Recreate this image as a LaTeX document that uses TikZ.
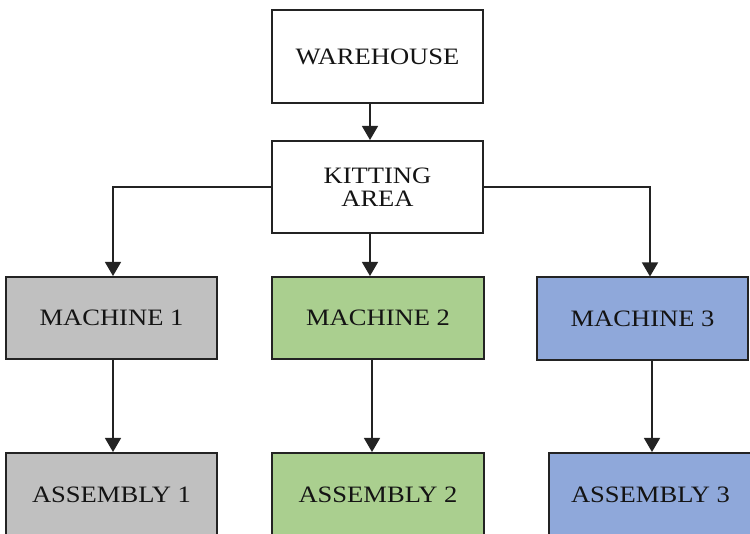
\documentclass[tikz,border=0pt]{standalone}
\usepackage{fontspec}
\setmainfont[FakeStretch=1.13]{Liberation Serif}
\usetikzlibrary{arrows.meta}
\definecolor{gbox}{RGB}{192,192,192}
\definecolor{grbox}{RGB}{170,207,143}
\definecolor{blbox}{RGB}{143,168,218}
\definecolor{edge}{RGB}{35,35,35}
\definecolor{txt}{RGB}{20,20,20}
\tikzset{
  box/.style={draw=edge, line width=2pt, inner sep=0pt, align=center,
    text=txt, font=\fontsize{23.5}{23.5}\selectfont},
  arr/.style={draw=edge, line width=1.3pt, -{Triangle[width=16pt,length=14pt]}},
}
\begin{document}
\begin{tikzpicture}[x=1pt,y=1pt]
\useasboundingbox (0,0) rectangle (750,-534);
\clip (0,0) rectangle (750,-534);
\node[box, minimum width=211pt, minimum height=93pt] (wh) at (377.5,-56.5) {WAREHOUSE};
\node[box, minimum width=211pt, minimum height=92pt] (ka) at (377.5,-187) {KITTING\\AREA};
\node[box, fill=gbox, minimum width=211pt, minimum height=82pt] (m1) at (111.5,-318) {MACHINE 1};
\node[box, fill=grbox, minimum width=212pt, minimum height=82pt] (m2) at (378,-318) {MACHINE 2};
\node[box, fill=blbox, minimum width=211pt, minimum height=83pt] (m3) at (642.5,-319) {MACHINE 3};
\node[box, fill=gbox, minimum width=211pt, minimum height=84pt] (a1) at (111.5,-495) {ASSEMBLY 1};
\node[box, fill=grbox, minimum width=212pt, minimum height=84pt] (a2) at (378,-495) {ASSEMBLY 2};
\node[box, fill=blbox, minimum width=203pt, minimum height=84pt] (a3) at (650.5,-495) {ASSEMBLY 3};
\draw[arr] ([xshift=-7.5pt]wh.south) -- ([xshift=-7.5pt]wh.south |- ka.north);
\draw[arr] (ka.west) -| ([xshift=1.5pt]m1.north);
\draw[arr] (ka.east) -| ([xshift=7.5pt]m3.north);
\draw[arr] ([xshift=-7.5pt]ka.south) -- ([xshift=-7.5pt]ka.south |- m2.north);
\draw[arr] ([xshift=1.5pt]m1.south) -- ([xshift=1.5pt]m1.south |- a1.north);
\draw[arr] ([xshift=-6pt]m2.south) -- ([xshift=-6pt]m2.south |- a2.north);
\draw[arr] ([xshift=9.5pt]m3.south) -- ([xshift=9.5pt]m3.south |- a3.north);
\end{tikzpicture}
\end{document}
